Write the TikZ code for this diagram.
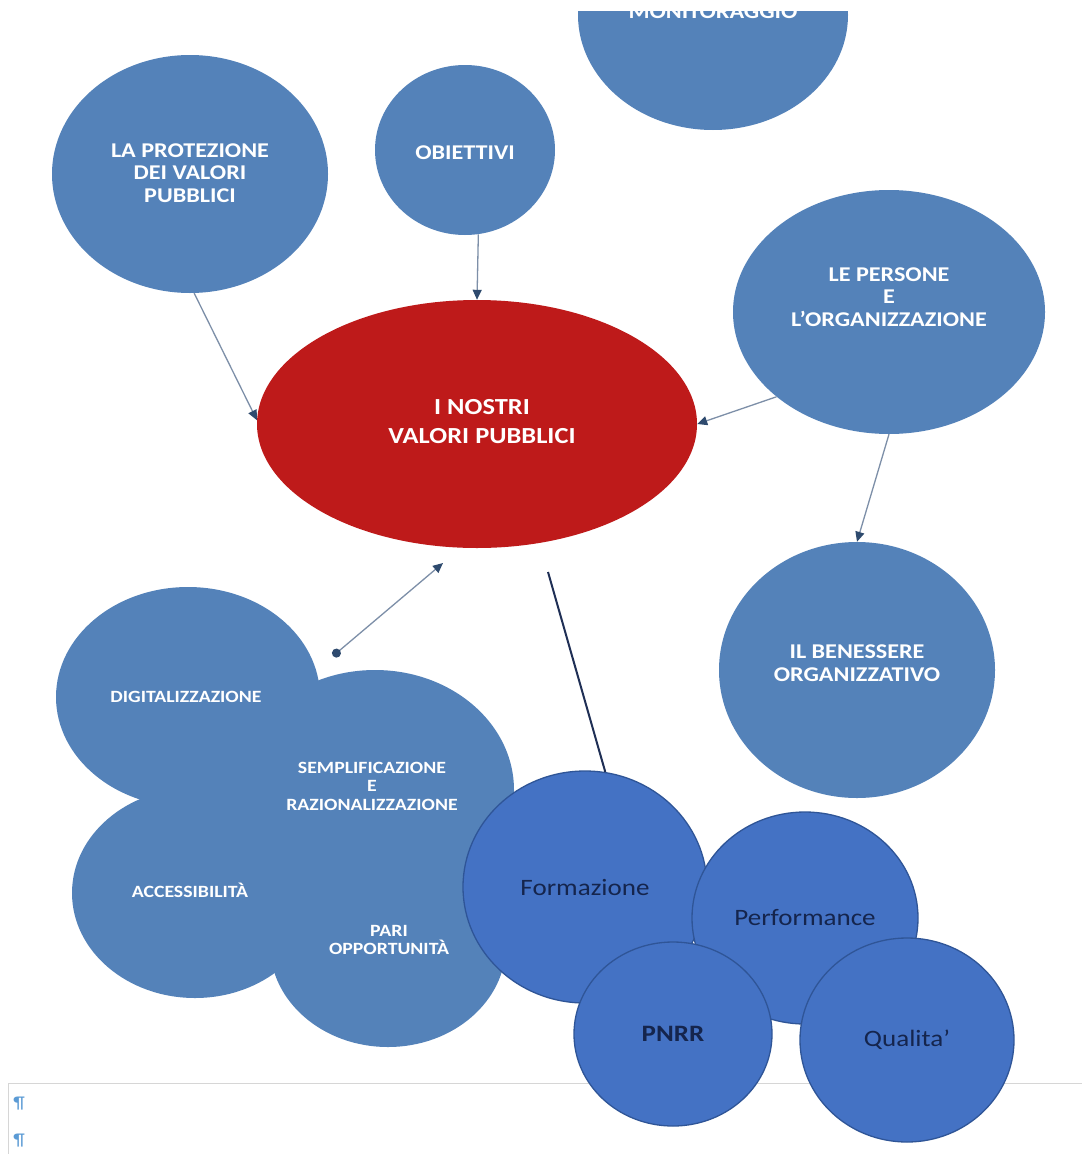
\documentclass[tikz,border=0pt]{standalone}
\usepackage{fontspec}
\setmainfont{Carlito}[FakeStretch=1.15]
\usetikzlibrary{shapes.geometric,arrows.meta}
\definecolor{steel}{HTML}{5482B9}
\definecolor{pblue}{HTML}{4472C4}
\definecolor{pedge}{HTML}{2F5597}
\definecolor{vred}{HTML}{BE1A1A}
\definecolor{navy}{HTML}{15254D}
\definecolor{arrline}{HTML}{7D8FA8}
\definecolor{arrtip}{HTML}{2E4A6E}
\definecolor{darkline}{HTML}{1F2F55}
\definecolor{pagegray}{HTML}{D6D6D6}
\definecolor{pilcrow}{HTML}{5B9BD5}
\begin{document}
\begin{tikzpicture}[x=1pt,y=-1pt,
  bub/.style={ellipse,fill=steel,draw=none,inner sep=0pt},
  pbub/.style={ellipse,fill=pblue,draw=pedge,line width=1.3pt,inner sep=0pt,text=navy,font=\fontsize{23.5}{26}\selectfont},
  wlab/.style={text=white,align=center,font=\fontsize{21}{22.5}\selectfont\bfseries,inner sep=0pt},
  clab/.style={text=white,align=center,font=\fontsize{17.2}{18.5}\selectfont\bfseries,inner sep=0pt},
  arr/.style={draw=arrline,line width=1.3pt,-{Triangle[length=10pt,width=9pt,color=arrtip]}},
  dblarr/.style={draw=arrline,line width=1.3pt,{Circle[length=9pt,color=arrtip]}-{Triangle[length=10pt,width=9pt,color=arrtip]}},
  plainline/.style={draw=darkline,line width=2pt},
  pagerule/.style={draw=pagegray,line width=1pt},
  pil/.style={text=pilcrow,font=\fontsize{17}{17}\selectfont,inner sep=0pt}
]
\useasboundingbox[fill=white] (0,0) rectangle (1082,1154);

% page rules and pilcrows
\draw[pagerule] (8,1083) -- (1082,1083);
\draw[pagerule] (8,1083) -- (8,1154);
\node[pil] (p1) at (19,1104) {¶};
\node[pil] (p2) at (19,1141) {¶};

% monitoraggio (cut at top)
\begin{scope}
\clip (0,11) rectangle (1082,1154);
\node[bub,minimum width=270pt,minimum height=230pt] (mon) at (713,15) {};
\node[wlab,anchor=base] (mon-t) at (713,18.5) {MONITORAGGIO};
\end{scope}

% upper bubbles
\node[bub,minimum width=276pt,minimum height=238pt] (prot) at (190,174) {};
\node[wlab] (prot-t) at (190,173) {LA PROTEZIONE\\DEI VALORI\\PUBBLICI};

\node[bub,minimum width=180pt,minimum height=170pt] (obj) at (465,150) {};
\node[wlab] (obj-t) at (465,153) {OBIETTIVI};

\node[bub,minimum width=312pt,minimum height=244pt] (pers) at (889,312) {};
\node[wlab] (pers-t) at (889,297) {LE PERSONE\\E\\L'ORGANIZZAZIONE};

\node[ellipse,fill=vred,inner sep=0pt,minimum width=440pt,minimum height=248pt] (red) at (477,424) {};
\node[wlab,font=\fontsize{23}{29}\selectfont\bfseries] (red-t) at (482,422) {I NOSTRI\\VALORI PUBBLICI};

\node[bub,minimum width=276pt,minimum height=256pt] (ben) at (857,670) {};
\node[wlab] (ben-t) at (857,663) {IL BENESSERE\\ORGANIZZATIVO};

% cloud
\node[bub,minimum width=264pt,minimum height=220pt] (cA) at (188,697) {};
\node[bub,minimum width=278pt,minimum height=240pt] (cB) at (375,790) {};
\node[bub,minimum width=246pt,minimum height=210pt] (cC) at (195,893) {};
\node[bub,minimum width=236pt,minimum height=204pt] (cD) at (388,945) {};
\node[clab] (cA-t) at (186,697) {DIGITALIZZAZIONE};
\node[clab] (cB-t) at (372,786) {SEMPLIFICAZIONE\\E\\RAZIONALIZZAZIONE};
\node[clab] (cC-t) at (190,890) {ACCESSIBILITÀ};
\node[clab] (cD-t) at (389,940) {PARI\\OPPORTUNITÀ};

% bottom bubbles
\node[pbub,minimum width=244pt,minimum height=232pt] (form) at (585,887) {Formazione};
\node[pbub,minimum width=226pt,minimum height=212pt] (perf) at (805,918) {Performance};
\node[pbub,minimum width=198pt,minimum height=184pt,font=\fontsize{23.5}{26}\selectfont\bfseries] (pnrr) at (673,1034) {PNRR};
\node[pbub,minimum width=214pt,minimum height=204pt] (qual) at (907,1040) {Qualita'};

% connectors
\coordinate (dtop) at (443,563);
\coordinate (dbot) at (333,656);
\coordinate (ltop) at (548,572);
\draw[arr] (prot.-88) -- (red.179);
\draw[arr] (obj.-81) -- (red.90);
\draw[arr] (pers.217) -- (red.0);
\draw[arr] (pers.-90) -- (ben.90);
\draw[dblarr] (dbot) -- (dtop);
\draw[plainline] (ltop) -- (form.80);
\end{tikzpicture}
\end{document}
